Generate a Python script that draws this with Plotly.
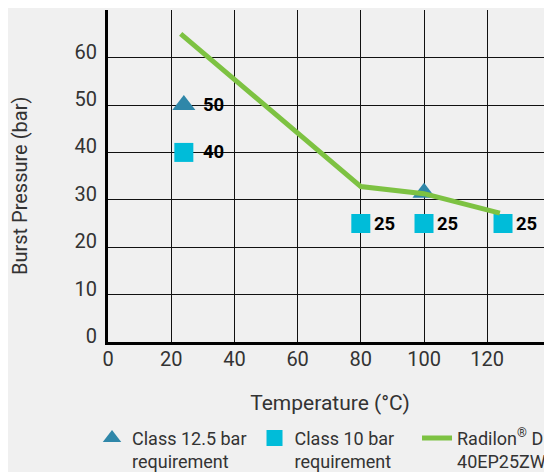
import plotly.graph_objects as go

# ---- data ----
tri_x = [24, 100]
tri_y = [50, 31.5]
tri_text = ["50", ""]

sq_x = [24, 80, 100, 125]
sq_y = [40, 25, 25, 25]
sq_text = ["40", "25", "25", "25"]

line_x = [23, 80, 100, 124]
line_y = [65, 32.8, 31.3, 27.2]

x_ticks = [0, 20, 40, 60, 80, 100, 120]
y_ticks = [0, 10, 20, 30, 40, 50, 60]
y_top = 70

FONT = "Roboto"
TXT = "#333333"

fig = go.Figure()

fig.add_trace(go.Scatter(
    x=tri_x, y=tri_y, mode="markers",
    marker=dict(symbol="triangle-up", size=20, color="#2f87a9"),
    name="Class 12.5 bar<br>requirement",
))
fig.add_trace(go.Scatter(
    x=sq_x, y=sq_y, mode="markers",
    marker=dict(symbol="square", size=19, color="#00bcd9"),
    name="Class 10 bar<br>requirement",
))
fig.add_trace(go.Scatter(
    x=line_x, y=line_y, mode="lines",
    line=dict(color="#7dc242", width=5),
    name="Radilon<sup>®</sup> D<br>40EP25ZW",
))

annots = []
for xs, ys, ts in ((tri_x, tri_y, tri_text), (sq_x, sq_y, sq_text)):
    for xv, yv, tv in zip(xs, ys, ts):
        if tv:
            annots.append(dict(
                x=xv, y=yv, text=tv, showarrow=False, xanchor="left",
                yanchor="middle", xshift=17 if xv < 50 else 11,
                font=dict(family=FONT, size=18.5, color="black", weight="bold"),
            ))

annots.append(dict(
    text="Burst Pressure (bar)", textangle=-90, xref="paper", yref="paper",
    x=-0.198, xanchor="center", y=0.47, yanchor="middle", showarrow=False,
    font=dict(family=FONT, size=20, color=TXT),
))

# page has an 8px body margin: figure is shifted by (8, 8)
fig.update_layout(
    width=544, height=472,
    margin=dict(l=100, r=0, t=2, b=138, autoexpand=False),
    paper_bgcolor="#f0f0f0", plot_bgcolor="#f0f0f0",
    font=dict(family=FONT, color=TXT),
    showlegend=True,
    legend=dict(
        orientation="h", x=-0.036, xanchor="left", y=-0.234, yanchor="top",
        entrywidth=117.5, entrywidthmode="pixels", valign="top",
        font=dict(family=FONT, size=18, color=TXT),
        bgcolor="rgba(0,0,0,0)", tracegroupgap=0,
    ),
    xaxis=dict(
        range=[0, 140.5], tickvals=x_ticks, showgrid=True,
        gridcolor="#111111", gridwidth=1, zeroline=False,
        showline=True, linecolor="black", linewidth=3,
        tickfont=dict(family=FONT, size=20, color=TXT),
        ticklabelstandoff=-3,
        title=dict(text="Temperature (°C)", font=dict(family=FONT, size=21, color=TXT), standoff=26),
    ),
    yaxis=dict(
        range=[0, 70.05], tickvals=y_ticks, showgrid=True,
        gridcolor="#111111", gridwidth=1, zeroline=False,
        showline=True, linecolor="black", linewidth=3,
        tickfont=dict(family=FONT, size=20, color=TXT),
        ticklabelshift=-6, ticklabelstandoff=4,
        minor=dict(tickvals=[y_top], showgrid=True, gridcolor="#666666", gridwidth=1.5),
    ),
    annotations=annots,
)

fig.write_html("out.html")
